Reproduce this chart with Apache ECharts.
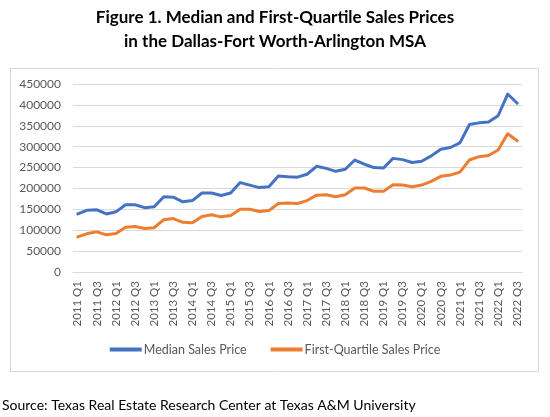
<!DOCTYPE html>
<html>
<head>
<meta charset="utf-8">
<script src="https://cdn.jsdelivr.net/npm/echarts@6/dist/echarts.min.js"></script>
<style>
html,body{margin:0;padding:0;background:#fff;}
#chart{width:550px;height:417px;}
</style>
</head>
<body>
<div id="chart"></div>
<script>
const categories = [
  '2011 Q1','2011 Q2','2011 Q3','2011 Q4',
  '2012 Q1','2012 Q2','2012 Q3','2012 Q4',
  '2013 Q1','2013 Q2','2013 Q3','2013 Q4',
  '2014 Q1','2014 Q2','2014 Q3','2014 Q4',
  '2015 Q1','2015 Q2','2015 Q3','2015 Q4',
  '2016 Q1','2016 Q2','2016 Q3','2016 Q4',
  '2017 Q1','2017 Q2','2017 Q3','2017 Q4',
  '2018 Q1','2018 Q2','2018 Q3','2018 Q4',
  '2019 Q1','2019 Q2','2019 Q3','2019 Q4',
  '2020 Q1','2020 Q2','2020 Q3','2020 Q4',
  '2021 Q1','2021 Q2','2021 Q3','2021 Q4',
  '2022 Q1','2022 Q2','2022 Q3'
];
const medianPrice = [
  139000,148000,149000,139000,
  144000,161000,161000,154000,
  156000,180000,179000,168000,
  171000,189000,189000,183000,
  189000,214000,208000,202000,
  204000,230000,228000,227000,
  234000,253000,248000,241000,
  246000,268000,258000,250000,
  249000,272000,269000,262000,
  265000,278000,294000,298000,
  309000,353000,357000,359000,
  374000,426000,404000
];
const firstQuartilePrice = [
  84000,92000,96000,89000,
  92000,107000,109000,104000,
  106000,125000,128000,119000,
  118000,133000,137000,132000,
  135000,150000,150000,145000,
  147000,164000,165000,164000,
  171000,184000,185000,180000,
  185000,201000,201000,193000,
  193000,209000,208000,204000,
  208000,217000,229000,232000,
  239000,268000,276000,279000,
  292000,331000,314000
];
const seriesNames = ['Median Sales Price','First-Quartile Sales Price'];
const titleLines = ['Figure 1. Median and First-Quartile Sales Prices','in the Dallas-Fort Worth-Arlington MSA'];
const sourceText = 'Source: Texas Real Estate Research Center at Texas A&M University';

const chart = echarts.init(document.getElementById('chart'), null, {renderer:'canvas'});
const font = 'Lato, "Open Sans", sans-serif';
chart.setOption({
  animation: false,
  backgroundColor: '#ffffff',
  title: {
    text: titleLines.join('\n'),
    left: 'center',
    top: 1,
    textStyle: {fontFamily: font, fontSize: 17, fontWeight: 'bold', color: '#000', lineHeight: 24}
  },
  graphic: [
    {type:'rect', shape:{x:10.5, y:68.5, width:528, height:303}, style:{fill:'none', stroke:'#d9d9d9', lineWidth:1}, z:-1},
    {type:'text', left: 2, top: 398, style:{text: sourceText, font: '14px ' + font, fill:'#000'}}
  ],
  legend: {
    data: seriesNames,
    bottom: 56,
    left: 'center',
    itemWidth: 32,
    itemHeight: 4,
    itemGap: 24,
    icon: 'rect',
    textStyle: {fontFamily: font, fontSize: 12.5, color: '#595959', padding:[0,0,0,-3]}
  },
  grid: {left: 73, right: 28, top: 84, bottom: 145},
  xAxis: {
    type: 'category',
    data: categories,
    boundaryGap: true,
    axisLine: {lineStyle: {color: '#d9d9d9', width: 1}},
    axisTick: {show: false},
    axisLabel: {interval: 1, rotate: 90, fontFamily: font, fontSize: 11.5, color: '#595959', margin: 9}
  },
  yAxis: {
    type: 'value',
    min: 0, max: 450000, interval: 50000,
    axisLine: {show: false},
    axisTick: {show: false},
    axisLabel: {fontFamily: font, fontSize: 12, color: '#595959', margin: 12, formatter: function (v) { return String(v); }},
    splitLine: {lineStyle: {color: '#d9d9d9', width: 1}}
  },
  series: [
    {name: seriesNames[0], type: 'line', data: medianPrice, symbol: 'none', color: '#4472C4',
     lineStyle: {width: 3, color: '#4472C4', cap: 'round', join: 'round'}},
    {name: seriesNames[1], type: 'line', data: firstQuartilePrice, symbol: 'none', color: '#ED7D31',
     lineStyle: {width: 3, color: '#ED7D31', cap: 'round', join: 'round'}}
  ]
});
</script>
</body>
</html>
